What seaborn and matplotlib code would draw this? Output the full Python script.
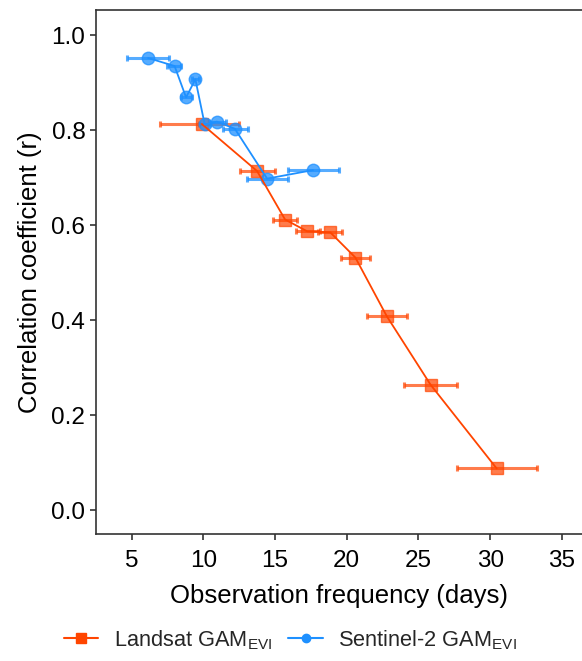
import numpy as np
import pandas as pd
import matplotlib
matplotlib.use("Agg")
import matplotlib.pyplot as plt
from matplotlib.lines import Line2D
import seaborn as sns

# Landsat GAM_EVI: observation frequency (days), r, and x error bar limits
landsat_freq = [9.9, 13.75, 15.7, 17.25, 18.85, 20.6, 22.8, 25.85, 30.45]
landsat_r = [0.813, 0.714, 0.612, 0.587, 0.585, 0.532, 0.408, 0.264, 0.088]
landsat_lo = [7.0, 12.55, 14.85, 16.45, 18.0, 19.6, 21.4, 24.0, 27.7]
landsat_hi = [12.5, 15.0, 16.5, 18.15, 19.7, 21.6, 24.2, 27.7, 33.25]

# Sentinel-2 GAM_EVI
s2_freq = [6.15, 8.0, 8.8, 9.45, 10.1, 10.95, 12.2, 14.45, 17.65]
s2_r = [0.952, 0.935, 0.869, 0.907, 0.812, 0.818, 0.803, 0.698, 0.716]
s2_lo = [4.7, 7.5, 8.45, 9.2, 9.7, 10.4, 11.35, 13.05, 15.9]
s2_hi = [7.6, 8.45, 9.2, 9.7, 10.5, 11.6, 13.1, 15.9, 19.45]

red = "#ff4500"
blue = "#1e90ff"

sns.set_theme(style="ticks")
plt.rcParams['font.family'] = ['Liberation Sans', 'DejaVu Sans']
plt.rcParams['mathtext.fontset'] = 'custom'
plt.rcParams['mathtext.rm'] = 'Liberation Sans'
plt.rcParams['mathtext.it'] = 'Liberation Sans'

df_l = pd.DataFrame({'freq': landsat_freq, 'r': landsat_r})
df_s = pd.DataFrame({'freq': s2_freq, 'r': s2_r})

fig = plt.figure(figsize=(5.82, 6.61), dpi=100)
ax = fig.add_axes([0.1644, 0.1921, 0.8356, 0.7928])

# horizontal error bars + markers
ax.errorbar(landsat_freq, landsat_r,
            xerr=[np.array(landsat_freq) - np.array(landsat_lo),
                  np.array(landsat_hi) - np.array(landsat_freq)],
            fmt='s', color=red, alpha=0.7, markersize=9, elinewidth=2.2,
            capsize=2, capthick=2.2, zorder=2)
ax.errorbar(s2_freq, s2_r,
            xerr=[np.array(s2_freq) - np.array(s2_lo),
                  np.array(s2_hi) - np.array(s2_freq)],
            fmt='o', color=blue, alpha=0.75, markersize=9, elinewidth=2.2,
            capsize=2, capthick=2.2, zorder=2)

# connecting lines
sns.lineplot(data=df_l, x='freq', y='r', sort=False, estimator=None,
             color=red, linewidth=1.3, ax=ax, zorder=3)
sns.lineplot(data=df_s, x='freq', y='r', sort=False, estimator=None,
             color=blue, linewidth=1.3, ax=ax, zorder=3)

ax.set_xlim(2.5, 36.4)
ax.set_ylim(-0.05, 1.053)
ax.set_xticks([5, 10, 15, 20, 25, 30, 35])
ax.set_yticks([0.0, 0.2, 0.4, 0.6, 0.8, 1.0])
ax.set_yticklabels(['0.0', '0.2', '0.4', '0.6', '0.8', '1.0'])
ax.set_xlabel('Observation frequency (days)', fontsize=18.5, color='black', labelpad=9)
ax.set_ylabel('Correlation coefficient (r)', fontsize=18.5, color='black', labelpad=7)
ax.tick_params(axis='both', labelsize=17.5, colors='#333333', labelcolor='black',
               length=4.5, width=1.2, direction='out', pad=3)
ax.tick_params(axis='x', pad=7)
for side in ['left', 'bottom', 'top']:
    ax.spines[side].set_color('#333333')
    ax.spines[side].set_linewidth(1.2)
ax.spines['right'].set_visible(False)

handles = [
    Line2D([], [], color=red, marker='s', markersize=7, linewidth=1.5,
           markerfacecolor=red, markeredgecolor=red),
    Line2D([], [], color=blue, marker='o', markersize=6, linewidth=1.5,
           markerfacecolor=blue, markeredgecolor=blue),
]
labels = [r'Landsat GAM$_{\mathrm{EVI}}$', r'Sentinel-2 GAM$_{\mathrm{EVI}}$']
fig.legend(handles, labels, loc='center', bbox_to_anchor=(0.499, 0.032), ncol=2,
           frameon=False, fontsize=15.7, handlelength=1.6, columnspacing=0.75,
           handletextpad=0.7)

fig.savefig('out.png', dpi=100)
